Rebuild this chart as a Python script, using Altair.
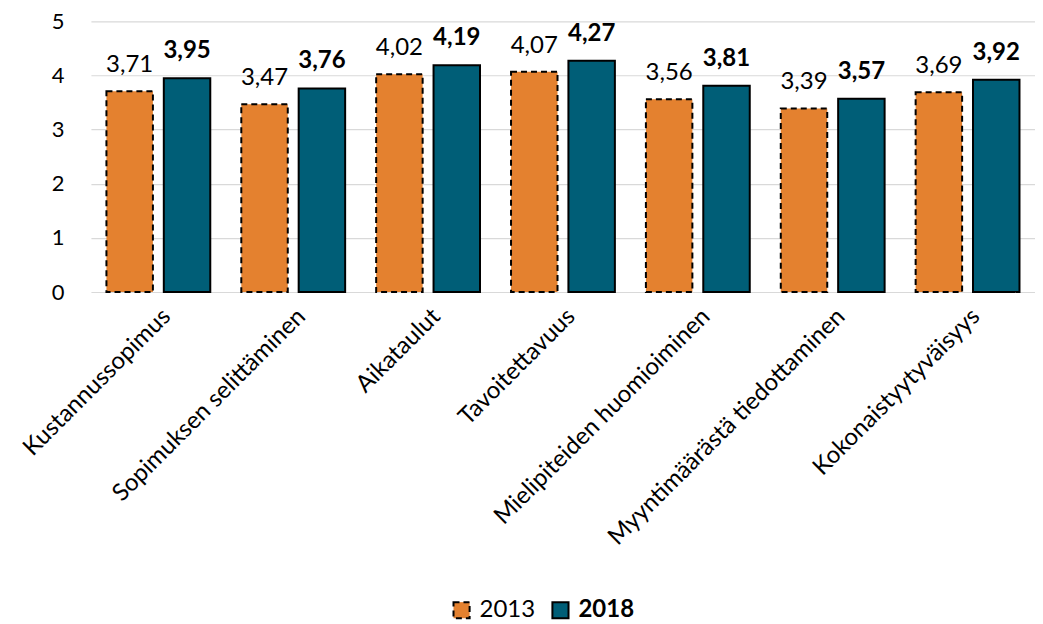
import altair as alt
import pandas as pd

categories = ["Kustannussopimus", "Sopimuksen selittäminen", "Aikataulut", "Tavoitettavuus",
              "Mielipiteiden huomioiminen", "Myyntimäärästä tiedottaminen", "Kokonaistyytyväisyys"]
values_2013 = [3.71, 3.47, 4.02, 4.07, 3.56, 3.39, 3.69]
values_2018 = [3.95, 3.76, 4.19, 4.27, 3.81, 3.57, 3.92]
years = ["2013", "2018"]

rows = []
for c, a, b in zip(categories, values_2013, values_2018):
    rows.append({"cat": c, "year": "2013", "value": a, "label": f"{a:.2f}".replace(".", ",")})
    rows.append({"cat": c, "year": "2018", "value": b, "label": f"{b:.2f}".replace(".", ",")})
df = pd.DataFrame(rows)

FONT = "Lato"
x = alt.X("cat:N", sort=categories, title=None,
          scale=alt.Scale(paddingInner=0.23, paddingOuter=0.115),
          axis=alt.Axis(labelAngle=-45, labelFontSize=24, labelFont=FONT, labelColor="#000000",
                        domain=False, ticks=False, labelPadding=12, labelLimit=400))
xo = alt.XOffset("year:N", scale=alt.Scale(domain=years, paddingInner=0.19))
y = alt.Y("value:Q", title=None,
          scale=alt.Scale(domain=[0, 5]),
          axis=alt.Axis(values=[0, 1, 2, 3, 4, 5], labelFontSize=22, labelFont=FONT, labelColor="#000000",
                        domain=False, ticks=False, labelPadding=27, gridColor="#d9d9d9", gridWidth=1.2))

leg = alt.Legend(title=None, orient="none", legendX=359, legendY=577,
                 direction="horizontal", symbolType="square", symbolSize=260,
                 symbolStrokeWidth=2,
                 labelFontSize=24, labelFont=FONT, labelColor="#000000",
                 labelFontWeight=alt.ExprRef("datum.label == '2018' ? 'bold' : 'normal'"),
                 columnPadding=12, labelOffset=6)

base = alt.Chart(df)

bars = base.mark_bar(strokeWidth=2).encode(
    x=x, xOffset=xo, y=y,
    color=alt.Color("year:N", scale=alt.Scale(domain=years, range=["#E4812F", "#005E77"]), legend=leg),
    stroke=alt.Stroke("year:N", scale=alt.Scale(domain=years, range=["#000000", "#000000"]), legend=leg),
    strokeDash=alt.StrokeDash("year:N", scale=alt.Scale(domain=years, range=[[6, 4], [1, 0]]), legend=leg),
)

text13 = base.transform_filter(alt.datum.year == "2013").mark_text(
    baseline="alphabetic", dy=-19, fontSize=24, font=FONT, color="#000000").encode(
    x=x, xOffset=xo, y=y, text="label:N")
text18 = base.transform_filter(alt.datum.year == "2018").mark_text(
    baseline="alphabetic", dy=-20, fontSize=24, font=FONT, fontWeight="bold", color="#000000").encode(
    x=x, xOffset=xo, y=y, text="label:N")

chart = alt.layer(bars, text13, text18).properties(
    width=945, height=271,
    padding={"left": 10, "top": 2, "right": 0, "bottom": 0}
).configure(font=FONT).configure_view(stroke=None)

chart.save("out.html", embed_options={"renderer": "svg", "actions": False})
